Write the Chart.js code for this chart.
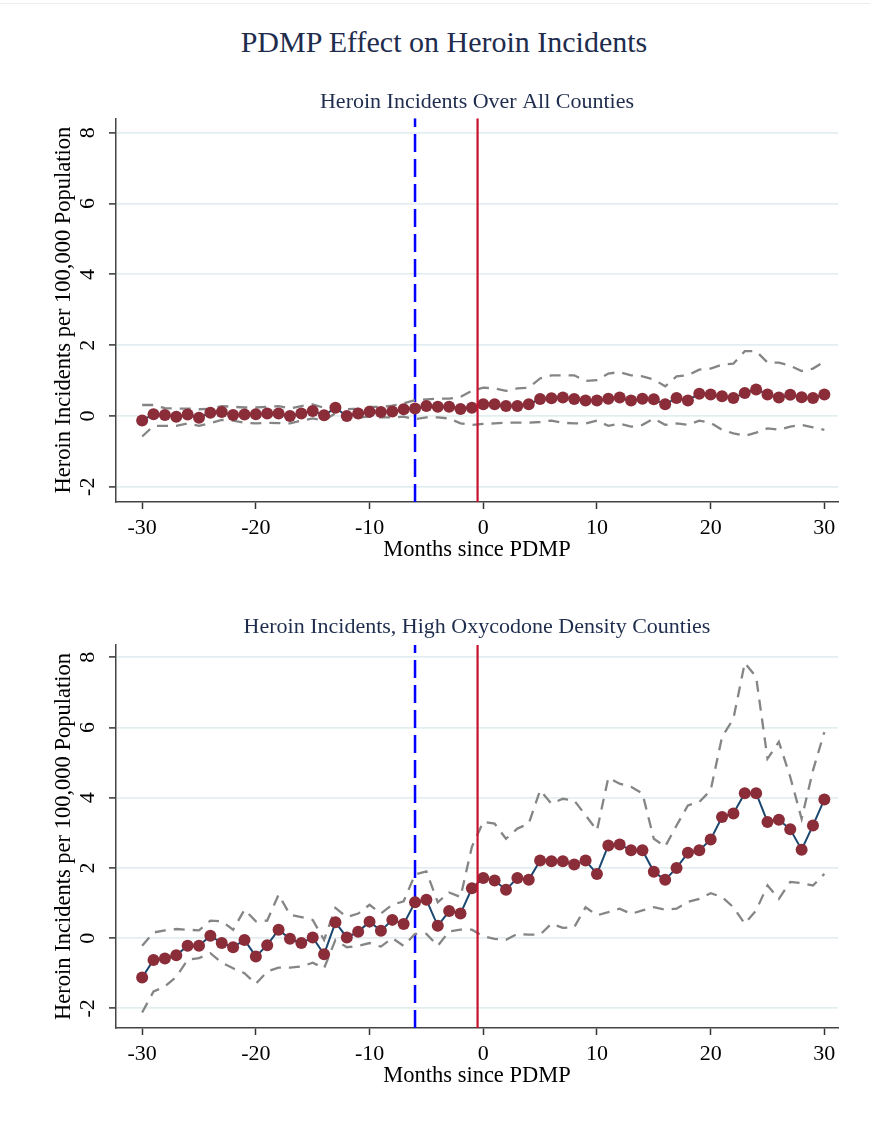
<!DOCTYPE html>
<html>
<head>
<meta charset="utf-8">
<title>PDMP Effect on Heroin Incidents</title>
<script src="https://cdn.jsdelivr.net/npm/chart.js@4"></script>
<style>
  html, body { margin: 0; padding: 0; background: #fff; }
  body { width: 870px; height: 1130px; position: relative; overflow: hidden;
         font-family: 'Liberation Serif', 'Times New Roman', serif; }
  .rule { position: absolute; left: 0; top: 3px; width: 870px; height: 1px; background: #ececec; }
  .main-title { position: absolute; left: 0; width: 888px; top: 24px; line-height: 36px;
                font-size: 30px; text-align: center; color: #1e2c4d; }
  .panel { position: absolute; left: 0; width: 870px; }
  #wrapAll { top: 60px; height: 504px; }
  #wrapOxy { top: 585px; height: 505px; }
</style>
</head>
<body>
<div class="rule"></div>
<div class="main-title">PDMP Effect on Heroin Incidents</div>
<div class="panel" id="wrapAll"><canvas id="allChart"></canvas></div>
<div class="panel" id="wrapOxy"><canvas id="oxyChart"></canvas></div>

<script>
(function() {
'use strict';

// months since PDMP (x categories)
const MONTHS = [
  -30, -29, -28, -27, -26, -25, -24, -23, -22, -21, -20, -19, -18, -17, -16, -15,
  -14, -13, -12, -11, -10, -9, -8, -7, -6, -5, -4, -3, -2, -1,
  0, 1, 2, 3, 4, 5, 6, 7, 8, 9, 10, 11, 12, 13, 14, 15,
  16, 17, 18, 19, 20, 21, 22, 23, 24, 25, 26, 27, 28, 29, 30
];

// all counties
const ALL_EST = [
  -0.13, 0.05, 0.03, -0.02, 0.04, -0.05, 0.09, 0.11, 0.03, 0.04, 0.05, 0.07, 0.07, 0.00, 0.07, 0.14,
  0.02, 0.23, 0.00, 0.07, 0.12, 0.11, 0.13, 0.19, 0.21, 0.28, 0.26, 0.26, 0.20, 0.23,
  0.33, 0.33, 0.28, 0.28, 0.33, 0.48, 0.50, 0.52, 0.48, 0.44, 0.44, 0.49, 0.52, 0.44, 0.49, 0.47,
  0.33, 0.51, 0.44, 0.63, 0.61, 0.56, 0.51, 0.65, 0.75, 0.61, 0.52, 0.60, 0.53, 0.51, 0.61
];
const ALL_HI = [
  0.31, 0.31, 0.22, 0.21, 0.21, 0.19, 0.20, 0.28, 0.26, 0.24, 0.24, 0.26, 0.28, 0.21, 0.28, 0.33,
  0.23, 0.31, 0.19, 0.21, 0.26, 0.26, 0.29, 0.36, 0.45, 0.47, 0.49, 0.49, 0.54, 0.71,
  0.80, 0.78, 0.71, 0.78, 0.80, 1.06, 1.15, 1.15, 1.15, 0.99, 1.01, 1.20, 1.24, 1.15, 1.12, 1.03,
  0.84, 1.12, 1.15, 1.31, 1.34, 1.45, 1.48, 1.83, 1.83, 1.51, 1.51, 1.42, 1.27, 1.34, 1.54
];
const ALL_LO = [
  -0.58, -0.28, -0.28, -0.28, -0.21, -0.28, -0.20, -0.11, -0.13, -0.19, -0.21, -0.19, -0.20, -0.21, -0.13, -0.07,
  -0.13, 0.08, -0.07, -0.04, -0.02, -0.04, -0.04, -0.02, -0.09, -0.04, -0.04, -0.07, -0.21, -0.25,
  -0.22, -0.21, -0.19, -0.19, -0.19, -0.17, -0.13, -0.19, -0.21, -0.21, -0.13, -0.28, -0.22, -0.30, -0.25, -0.07,
  -0.25, -0.21, -0.25, -0.13, -0.19, -0.39, -0.49, -0.56, -0.47, -0.35, -0.39, -0.30, -0.25, -0.32, -0.39
];

// high oxycodone density counties
const OXY_EST = [
  -1.12, -0.62, -0.58, -0.49, -0.22, -0.22, 0.07, -0.14, -0.26, -0.05, -0.52, -0.20, 0.24, -0.02, -0.14, 0.02,
  -0.46, 0.45, 0.02, 0.18, 0.47, 0.21, 0.52, 0.40, 1.02, 1.09, 0.35, 0.77, 0.70, 1.42,
  1.71, 1.64, 1.38, 1.71, 1.66, 2.21, 2.19, 2.19, 2.10, 2.21, 1.83, 2.64, 2.67, 2.50, 2.50, 1.89,
  1.66, 2.00, 2.43, 2.50, 2.81, 3.45, 3.55, 4.13, 4.13, 3.31, 3.37, 3.10, 2.52, 3.21, 3.95
];
const OXY_HI = [
  -0.22, 0.16, 0.22, 0.26, 0.24, 0.22, 0.50, 0.48, 0.24, 0.81, 0.48, 0.50, 1.24, 0.67, 0.60, 0.52,
  -0.05, 0.86, 0.60, 0.70, 0.95, 0.70, 0.95, 1.05, 1.81, 1.90, 1.02, 1.30, 1.17, 2.60,
  3.31, 3.26, 2.83, 3.12, 3.26, 4.21, 3.83, 3.97, 3.92, 3.50, 3.07, 4.57, 4.40, 4.31, 4.12, 2.83,
  2.61, 3.21, 3.78, 3.88, 4.21, 5.73, 6.25, 7.84, 7.44, 5.11, 5.59, 4.59, 3.40, 4.78, 5.87
];
const OXY_LO = [
  -2.12, -1.52, -1.38, -1.10, -0.62, -0.57, -0.43, -0.70, -0.86, -1.00, -1.30, -0.95, -0.84, -0.84, -0.81, -0.70,
  -0.86, -0.05, -0.26, -0.22, -0.14, -0.24, 0.00, -0.22, 0.12, 0.12, -0.22, 0.19, 0.24, 0.24,
  0.05, -0.02, -0.05, 0.12, 0.10, 0.10, 0.41, 0.29, 0.31, 0.88, 0.65, 0.74, 0.84, 0.69, 0.79, 0.88,
  0.81, 0.84, 1.03, 1.12, 1.28, 1.17, 0.88, 0.41, 0.79, 1.50, 1.12, 1.60, 1.57, 1.50, 1.83
];

const X_TICKS = [-30, -20, -10, 0, 10, 20, 30];
const Y_TICKS = [-2, 0, 2, 4, 6, 8];
const BLUE_X = -6;   // dashed reference line
const RED_X = -0.5;  // PDMP start

const SERIF = "'Liberation Serif', 'Times New Roman', serif";
const NAVY = '#1a476f';
const MAROON = '#8b2c39';
const CI_GRAY = '#858585';

function pts(vals) {
  return MONTHS.map((m, i) => ({x: m, y: vals[i]}));
}

function vline(x, y0, y1, color, width, dash) {
  return {
    data: [{x: x, y: y0}, {x: x, y: y1}],
    borderColor: color,
    borderWidth: width,
    borderDash: dash,
    pointRadius: 0,
    fill: false
  };
}

function ciLine(vals) {
  return {
    data: pts(vals),
    borderColor: CI_GRAY,
    borderWidth: 2.3,
    borderDash: [11, 8],
    pointRadius: 0,
    tension: 0,
    fill: false
  };
}

function panel(id, subtitle, subPadBottom, yMin, yMax, est, lo, hi) {
  const ctx = document.getElementById(id);
  return new Chart(ctx, {
    type: 'line',
    data: {
      // first dataset ends up on top
      datasets: [
        vline(RED_X, yMin, yMax, '#c8102e', 2.2, []),
        {
          data: pts(est),
          borderColor: NAVY,
          borderWidth: 2,
          pointRadius: 6,
          pointBorderWidth: 0,
          pointBackgroundColor: MAROON,
          pointBorderColor: MAROON,
          tension: 0,
          fill: false
        },
        ciLine(hi),
        ciLine(lo),
        vline(BLUE_X, yMin, yMax, '#0000ff', 2.5, [18, 7])
      ]
    },
    options: {
      responsive: true,
      maintainAspectRatio: false,
      animation: false,
      devicePixelRatio: 1,
      layout: {padding: {left: 40, right: 32, top: 0, bottom: 0}},
      plugins: {
        legend: {display: false},
        tooltip: {enabled: false},
        title: {
          display: true,
          text: subtitle,
          fullSize: false,
          color: '#1e2c4d',
          font: {family: SERIF, size: 22, weight: 'normal'},
          padding: {top: 29.3, bottom: subPadBottom}
        }
      },
      scales: {
        x: {
          type: 'linear',
          min: -32.3,
          max: 31.2,
          afterBuildTicks: s => { s.ticks = X_TICKS.map(v => ({value: v})); },
          afterFit: s => { s.height = 62; },
          ticks: {color: '#000', font: {family: SERIF, size: 22}, padding: 6, autoSkip: false, maxRotation: 0},
          grid: {drawOnChartArea: false, tickLength: 7, tickColor: '#333', tickWidth: 1.5},
          border: {color: '#444', width: 1.5},
          title: {
            display: true,
            text: 'Months since PDMP',
            color: '#000',
            font: {family: SERIF, size: 22.5},
            padding: {top: 0, bottom: 0}
          }
        },
        y: {
          min: yMin,
          max: yMax,
          afterBuildTicks: s => { s.ticks = Y_TICKS.map(v => ({value: v})); },
          afterFit: s => { s.width = 76; },
          ticks: {
            color: '#000',
            font: {family: SERIF, size: 22},
            padding: 12,
            minRotation: 90,
            maxRotation: 90,
            crossAlign: 'center'
          },
          grid: {color: '#e3eef0', lineWidth: 1.8, tickLength: 7, tickColor: '#333', tickWidth: 1.5},
          border: {color: '#444', width: 1.5},
          title: {
            display: true,
            text: 'Heroin Incidents per 100,000 Population',
            color: '#000',
            font: {family: SERIF, size: 22.5},
            padding: {top: 11, bottom: 0}
          }
        }
      }
    }
  });
}

panel('allChart', 'Heroin Incidents Over All Counties', 2.6, -2.43, 8.41, ALL_EST, ALL_LO, ALL_HI);
panel('oxyChart', 'Heroin Incidents, High Oxycodone Density Counties', 4.3, -2.56, 8.35, OXY_EST, OXY_LO, OXY_HI);
})();
</script>
</body>
</html>
